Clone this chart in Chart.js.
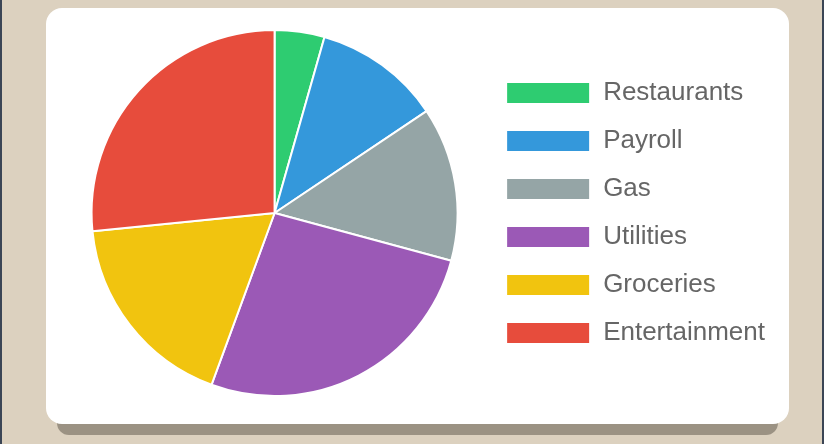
<!DOCTYPE html>
<html>
<head>
<meta charset="utf-8">
<script src="https://cdn.jsdelivr.net/npm/chart.js@4/dist/chart.umd.min.js"></script>
<style>
  html, body { margin: 0; padding: 0; }
  body {
    width: 824px; height: 444px; overflow: hidden; position: relative;
    background: #dcd1bf;
    box-sizing: border-box;
    border-left: 2px solid #3b4555;
    border-right: 2px solid #3b4555;
  }
  .shadow {
    position: absolute; left: 55px; top: 400px; width: 721px; height: 35px;
    background: #9b9283; border-radius: 0 0 12px 12px;
  }
  .card {
    position: absolute; left: 44px; top: 8px; width: 743px; height: 416px;
    background: #fff; border-radius: 16px;
  }
  .wrap {
    position: absolute; left: 9px; top: 21px; width: 720px; height: 368px;
  }
</style>
</head>
<body>
<div class="shadow"></div>
<div class="card">
  <div class="wrap"><canvas id="pie"></canvas></div>
</div>
<script>
"use strict"

const categories = ['Restaurants', 'Payroll', 'Gas', 'Utilities', 'Groceries', 'Entertainment'];
const amounts = [4.4, 11.2, 13.6, 26.4, 17.8, 26.6];
const colors = ['#2ecc71', '#3498db', '#95a5a6', '#9b59b6', '#f1c40f', '#e74c3c'];

const pie = document.getElementById('pie');

new Chart(pie, {
    type: 'pie',
    data: {
        labels: categories,
        datasets: [{
            data: amounts,
            backgroundColor: colors,
            borderColor: '#fff',
            borderWidth: 2
        }]
    },
    options: {
        responsive: true,
        maintainAspectRatio: false,
        animation: false,
        layout: { padding: { left: 10 } },
        plugins: {
            tooltip: { enabled: false },
            legend: {
                position: 'right',
                labels: {
                    color: '#666',
                    boxWidth: 84,
                    boxHeight: 22,
                    padding: 22,
                    font: { family: 'Liberation Sans, Arial, sans-serif', size: 26 }
                }
            }
        }
    }
});
</script>
</body>
</html>
